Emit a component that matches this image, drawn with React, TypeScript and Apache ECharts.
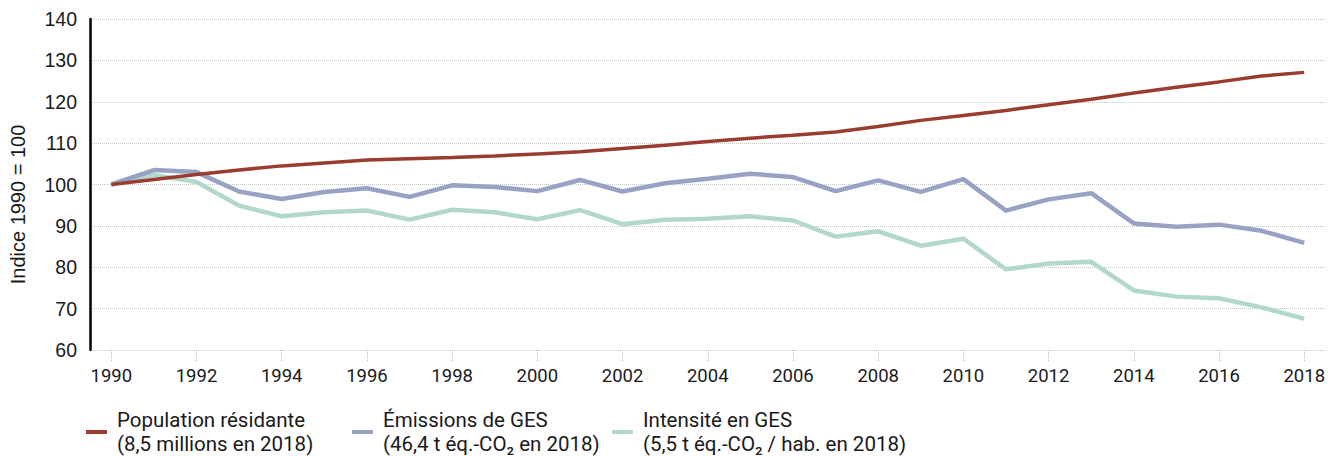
import React, { useEffect, useRef } from "react";
import * as echarts from "echarts";

const years: string[] = [
  "1990","1991","1992","1993","1994","1995","1996","1997","1998","1999",
  "2000","2001","2002","2003","2004","2005","2006","2007","2008","2009",
  "2010","2011","2012","2013","2014","2015","2016","2017","2018",
];

const population: number[] = [
  100, 101.2, 102.4, 103.5, 104.5, 105.2, 105.9, 106.2, 106.5, 106.9,
  107.4, 107.9, 108.7, 109.5, 110.4, 111.2, 111.9, 112.7, 114.0, 115.5,
  116.7, 117.9, 119.3, 120.6, 122.1, 123.5, 124.8, 126.2, 127.1,
];

const emissions: number[] = [
  100, 103.5, 103.0, 98.3, 96.5, 98.2, 99.1, 97.0, 99.8, 99.4,
  98.4, 101.1, 98.3, 100.3, 101.4, 102.6, 101.8, 98.4, 101.0, 98.2,
  101.3, 93.7, 96.4, 97.9, 90.6, 89.8, 90.3, 88.8, 85.9,
];

const intensity: number[] = [
  100, 102.3, 100.6, 94.9, 92.3, 93.3, 93.7, 91.5, 93.9, 93.3,
  91.6, 93.8, 90.4, 91.5, 91.7, 92.3, 91.3, 87.4, 88.7, 85.2,
  86.9, 79.5, 80.9, 81.3, 74.4, 72.9, 72.5, 70.3, 67.6,
];

const seriesNames: string[] = [
  "Population résidante\n(8,5 millions en 2018)",
  "Émissions de GES\n(46,4 t éq.-CO₂ en 2018)",
  "Intensité en GES\n(5,5 t éq.-CO₂ / hab. en 2018)",
];

const yTicks = { min: 60, max: 140, interval: 10 };
const yAxisName = "Indice 1990 = 100";

const colors = ["#9a3d30", "#98a2c4", "#b2d7cb"];
const FONT = "Roboto";
const AXFONT = "Liberation Sans";

export default function App() {
  const ref = useRef<HTMLDivElement>(null);

  useEffect(() => {
    if (!ref.current) return;
    const chart = echarts.init(ref.current, undefined, { renderer: "svg" });
    const legendLeft = [86, 352, 612];
    chart.setOption({
      animation: false,
      backgroundColor: "#ffffff",
      textStyle: { fontFamily: FONT },
      grid: { left: 89, top: 19, width: 1237, height: 331, containLabel: false },
      legend: seriesNames.map((n, i) => ({
        data: [n],
        left: legendLeft[i],
        top: 396,
        padding: 0,
        icon: "rect",
        itemWidth: 21,
        itemHeight: 4,
        selectedMode: false,
        itemStyle: { color: colors[i] },
        textStyle: {
          fontFamily: FONT,
          fontSize: 20.5,
          color: "#1a1a1a",
          lineHeight: 24,
          padding: [24, 0, 0, 5],
        },
      })),
      xAxis: {
        type: "category",
        data: years,
        boundaryGap: true,
        axisLine: { show: false },
        axisTick: {
          show: true,
          interval: 1,
          alignWithLabel: true,
          length: 12,
          lineStyle: { color: "#bbbbbb", type: "dotted", width: 1 },
        },
        axisLabel: {
          interval: 1,
          margin: 16,
          fontFamily: FONT,
          fontSize: 18.5,
          color: "#1a1a1a",
        },
        splitLine: { show: false },
      },
      yAxis: {
        type: "value",
        min: yTicks.min,
        max: yTicks.max,
        interval: yTicks.interval,
        name: yAxisName,
        nameLocation: "middle",
        nameGap: 62,
        nameTextStyle: {
          fontFamily: AXFONT,
          fontSize: 20,
          color: "#1a1a1a",
          padding: [0, 40, 0, 0],
        },
        axisLine: { show: true, lineStyle: { color: "#000000", width: 2.5 } },
        axisTick: { show: false },
        axisLabel: { margin: 13, fontFamily: AXFONT, fontSize: 19.5, color: "#1a1a1a" },
        splitLine: { show: true, lineStyle: { color: "#c4c4c4", type: "dotted", width: 1 } },
      },
      series: [population, emissions, intensity].map((d, i) => ({
        name: seriesNames[i],
        type: "line",
        data: d,
        symbol: "none",
        lineStyle: { color: colors[i], width: i === 0 ? 3.5 : 4.5 },
        itemStyle: { color: colors[i] },
        z: 3 - i,
      })),
    });
    return () => chart.dispose();
  }, []);

  return (
    <div
      ref={ref}
      style={{ position: "fixed", left: 0, top: 0, width: 1328, height: 456, background: "#fff" }}
    />
  );
}
